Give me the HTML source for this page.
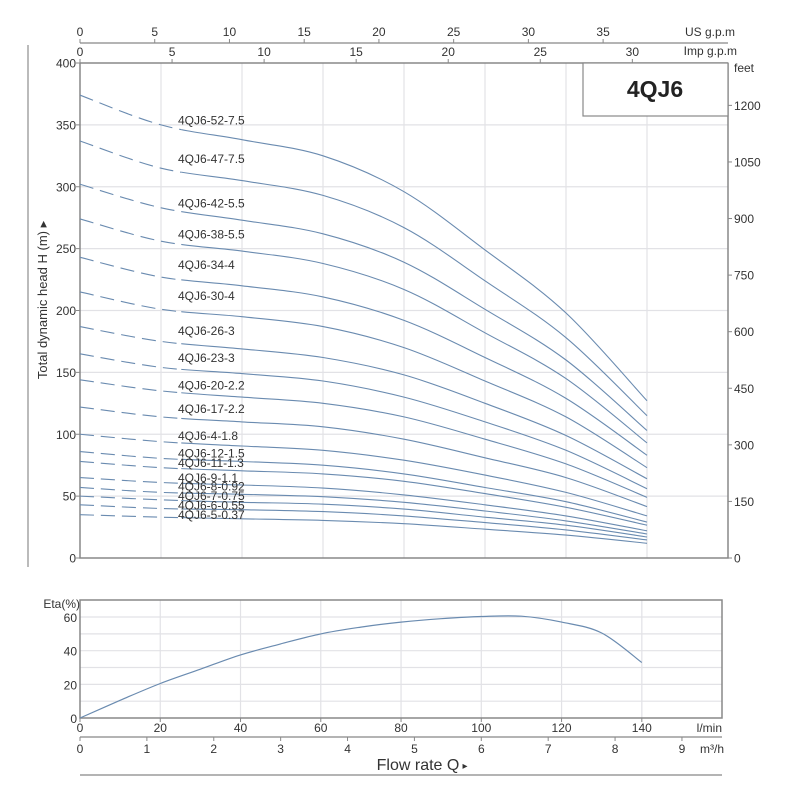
<!DOCTYPE html>
<html><head><meta charset="utf-8"><style>
body{margin:0;background:#fff;}
svg{display:block;font-family:"Liberation Sans",Arial,sans-serif;}
</style></head><body>
<svg id="c" width="790" height="800" viewBox="0 0 790 800"></svg>
<script>
const flows = [0,20,40,60,80,100,120,140];
const models = ["4QJ6-52-7.5","4QJ6-47-7.5","4QJ6-42-5.5","4QJ6-38-5.5","4QJ6-34-4","4QJ6-30-4","4QJ6-26-3","4QJ6-23-3","4QJ6-20-2.2","4QJ6-17-2.2","4QJ6-4-1.8","4QJ6-12-1.5","4QJ6-11-1.3","4QJ6-9-1.1","4QJ6-8-0.92","4QJ6-7-0.75","4QJ6-6-0.55","4QJ6-5-0.37"];
const heads = [
[374,350,338,325,296,249,198,127],
[337,315,305,293,267,224,178,115],
[302,283,273,262,239,201,160,103],
[274,256,248,238,217,182,145,93],
[243,227,220,211,192,162,129,83],
[215,201,195,187,170,143,114,73],
[187,175,169,162,148,125,99,64],
[165,154,149,143,130,110,87,56],
[144,135,130,125,114,96,76,49],
[122,114,110,106,96,81,65,41.5],
[100,94,90.5,87,79,67,53,34],
[86,80.5,78,75,68,57,45.5,29],
[78,73,70.5,68,62,52,41,26.5],
[65,61,59,56.5,51,43,34,22],
[57,53,51.5,49.5,45,38,30,19.4],
[50,47,45,43.5,39.5,33,26.5,17],
[43,40,39,37.5,34,28.6,22.7,14.6],
[35,33,31.7,30.4,27.7,23.3,18.5,11.9]];
const labelHeads = [354,323,287,262,237,212,184,162,140,121,99,85,77,65,58,50.5,43,35];
const etaFlows = [0,10,20,30,40,50,60,70,80,90,100,110,120,130,140];
const etaValues = [0,10.5,20.5,29,37.5,44,50,54,57,59,60.3,60.5,57,50.5,33];
const headTicks = [0,50,100,150,200,250,300,350,400];
const feetTicks = [0,150,300,450,600,750,900,1050,1200];
const lminTicks = [0,20,40,60,80,100,120,140];
const m3hTicks = [0,1,2,3,4,5,6,7,8,9];
const usTicks = [0,5,10,15,20,25,30,35];
const impTicks = [0,5,10,15,20,25,30];
const etaTicks = [0,20,40,60];

const svg=document.getElementById('c');
const NS='http://www.w3.org/2000/svg';
function mk(t,a,p){const e=document.createElementNS(NS,t);for(const k in a)e.setAttribute(k,a[k]);(p||svg).appendChild(e);return e;}
// main scales
const X=q=>80+q*4.05, Y=h=>558-h*1.2375;
const EX=q=>80+q*4.013, EY=v=>718-v*1.683;
function smooth(pts){let d='M'+pts[0][0]+','+pts[0][1];for(let i=0;i<pts.length-1;i++){const p0=pts[i-1]||pts[i],p1=pts[i],p2=pts[i+1],p3=pts[i+2]||p2;const c1=[p1[0]+(p2[0]-p0[0])/6,p1[1]+(p2[1]-p0[1])/6],c2=[p2[0]-(p3[0]-p1[0])/6,p2[1]-(p3[1]-p1[1])/6];d+=`C${c1[0].toFixed(1)},${c1[1].toFixed(1)} ${c2[0].toFixed(1)},${c2[1].toFixed(1)} ${p2[0].toFixed(1)},${p2[1].toFixed(1)}`;}return d;}
const defs=mk('defs',{});
const cpA=mk('clipPath',{id:'dashc'},defs);mk('rect',{x:0,y:0,width:X(25),height:800},cpA);
const cpB=mk('clipPath',{id:'solc'},defs);mk('rect',{x:X(25),y:0,width:800,height:800},cpB);
const txt=(x,y,s,a,name,size,anchor)=>{const t=mk('text',Object.assign({x:x,y:y,'font-size':size||12,fill:'#333','text-anchor':anchor||'middle'},a||{}));t.textContent=s;return t;};
// left border line
let l=mk('rect',{x:27,y:45,width:2,height:522,fill:'#bbb'});

// grid main
for(let q=20;q<160;q+=20){let g=mk('line',{x1:X(q),x2:X(q),y1:63,y2:558,stroke:'#e2e2e6','stroke-width':1.2});}
for(const h of headTicks){if(h===0||h===400)continue;let g=mk('line',{x1:80,x2:728,y1:Y(h),y2:Y(h),stroke:'#e2e2e6','stroke-width':1.2});}
// plot frame
let fr=mk('path',{d:`M80,63V558H728V63`,fill:'none',stroke:'#888','stroke-width':1.5});
let tp=mk('line',{x1:80,x2:728,y1:63,y2:63,stroke:'#888','stroke-width':1.5});
let us=mk('line',{x1:80,x2:728,y1:43,y2:43,stroke:'#888','stroke-width':1.2});
for(const g of usTicks){const x=80+g*3.785*4.05*0.975;mk('line',{x1:x,x2:x,y1:43,y2:39,stroke:'#888'});txt(x,36,String(g),null,'us-gpm-tick-label',12);}
for(const g of impTicks){const x=X(g*4.546);mk('line',{x1:x,x2:x,y1:63,y2:59,stroke:'#888'});txt(x,56,String(g),null,'imp-gpm-tick-label',12);}
txt(735,36,'US g.p.m',null,'us-gpm-unit',12,'end');
txt(737,55,'Imp g.p.m',null,'imp-gpm-unit',12,'end');
for(const h of headTicks){mk('line',{x1:76,x2:80,y1:Y(h),y2:Y(h),stroke:'#888'});txt(76,Y(h)+4.5,String(h),null,'head-tick-label',12,'end');}
for(const f of feetTicks){const y=Y(f*0.3048);mk('line',{x1:728,x2:732,y1:y,y2:y,stroke:'#888'});txt(734,y+4.5,String(f),null,'feet-tick-label',12,'start');}
txt(734,72,'feet',null,'feet-unit',12,'start');
let yt=txt(0,0,'Total dynamic head H (m) ▸',{transform:'translate(47,300) rotate(-90)'},'y-axis-title',13);
// model box
let bx=mk('rect',{x:583,y:63,width:145,height:53,fill:'#fff',stroke:'#888','stroke-width':1.2});
txt(655,97,'4QJ6',{'font-weight':'bold',fill:'#222'},'model-title',23);
// curves
heads.forEach((hs,i)=>{const pts=flows.map((q,j)=>[X(q),Y(hs[j])]);const d=smooth(pts);
 const a=mk('path',{d:d,fill:'none',stroke:'#6a8bb0','stroke-width':1.1,'stroke-dasharray':'14,7','clip-path':'url(#dashc)'});
 
 const b=mk('path',{d:d,fill:'none',stroke:'#6a8bb0','stroke-width':1.1,'clip-path':'url(#solc)'});
 
 txt(178,Y(labelHeads[i])+4.5,models[i],null,'curve-label',12,'start');
});
// eta chart
for(let q=20;q<160;q+=20){let g=mk('line',{x1:EX(q),x2:EX(q),y1:600,y2:718,stroke:'#e2e2e6','stroke-width':1.2});}
for(let v=10;v<=60;v+=10){let g=mk('line',{x1:80,x2:722,y1:EY(v),y2:EY(v),stroke:'#e2e2e6','stroke-width':1.2});}
let ef=mk('rect',{x:80,y:600,width:642,height:118,fill:'none',stroke:'#888','stroke-width':1.5});
for(const v of etaTicks)txt(77,EY(v)+5,String(v),null,'eta-tick-label',12,'end');
txt(80,608,'Eta(%)',null,'eta-axis-title',12,'end');
const ep=mk('path',{d:smooth(etaFlows.map((q,j)=>[EX(q),EY(etaValues[j])])),fill:'none',stroke:'#6a8bb0','stroke-width':1.2});

for(const q of lminTicks){mk('line',{x1:EX(q),x2:EX(q),y1:718,y2:722,stroke:'#888'});txt(EX(q),732,String(q),null,'lmin-tick-label',12);}
txt(722,732,'l/min',null,'lmin-unit',12,'end');
let ma=mk('line',{x1:80,x2:722,y1:737,y2:737,stroke:'#888','stroke-width':1.2});
for(const m of m3hTicks){const x=EX(m*1000/60);mk('line',{x1:x,x2:x,y1:737,y2:741,stroke:'#888'});txt(x,753,String(m),null,'m3h-tick-label',12);}
txt(724,753,'m³/h',null,'m3h-unit',12,'end');
txt(418,770,'Flow rate Q',null,'x-axis-title',16);
txt(465,769,'▸',null,'x-axis-arrow',10);
let bl=mk('line',{x1:80,x2:722,y1:775,y2:775,stroke:'#888','stroke-width':1.2});
</script>
</body></html>
